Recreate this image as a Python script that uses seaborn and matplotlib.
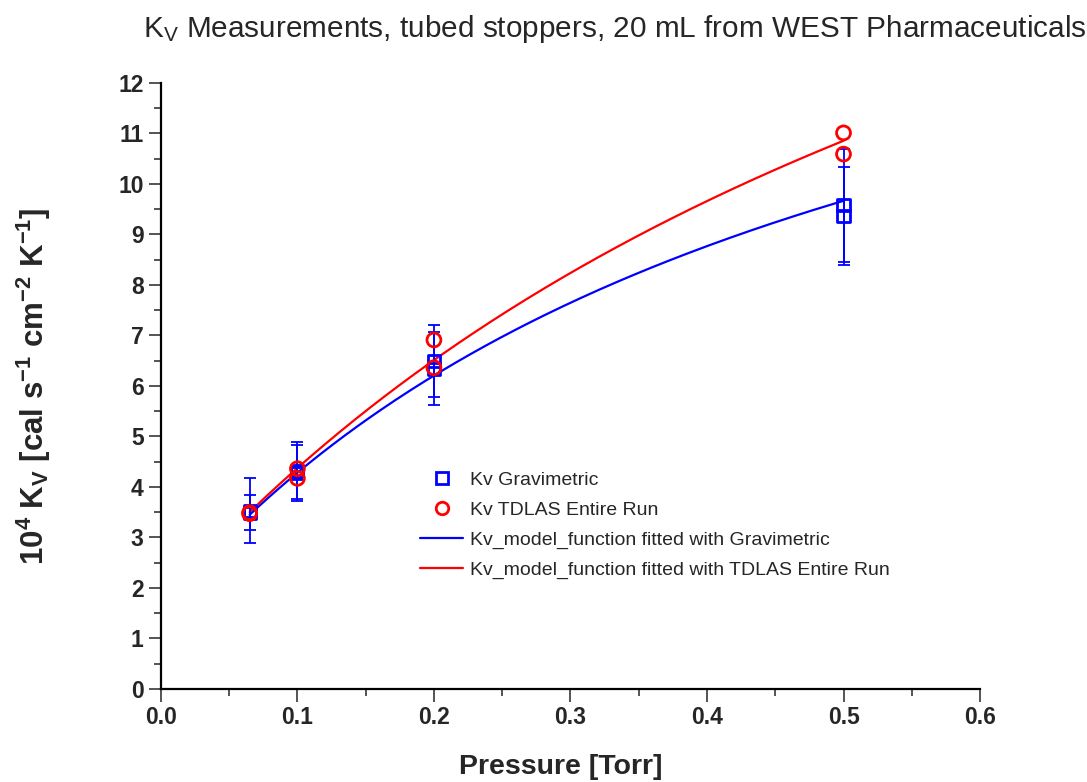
import numpy as np
import pandas as pd
import matplotlib
matplotlib.use("Agg")
import matplotlib.pyplot as plt
from matplotlib.lines import Line2D
from matplotlib.ticker import MultipleLocator
import seaborn as sns

# Measured Kv values (x 1e-4 cal s^-1 cm^-2 K^-1) against chamber pressure (Torr)
grav_pressure = [0.065, 0.065, 0.1, 0.1, 0.2, 0.2, 0.5, 0.5]
grav_kv = [3.53, 3.49, 4.32, 4.28, 6.50, 6.34, 9.58, 9.37]
grav_err = [0.65, 0.35, 0.56, 0.56, 0.71, 0.72, 1.12, 0.97]

tdlas_pressure = [0.065, 0.065, 0.1, 0.1, 0.2, 0.2, 0.5, 0.5]
tdlas_kv = [3.49, 3.47, 4.36, 4.17, 6.91, 6.36, 11.01, 10.59]

# Fitted parameters of Kv = Kc + Kp*P / (1 + Kd*P)
grav_fit = {"Kc": 1.59, "Kp": 32.3, "Kd": 2.0}
tdlas_fit = {"Kc": 1.66, "Kp": 30.8, "Kd": 1.35}
fit_range = (0.065, 0.5)

x_ticklabels = ["0.0", "0.1", "0.2", "0.3", "0.4", "0.5", "0.6"]
legend_labels = ["Kv Gravimetric", "Kv TDLAS Entire Run",
                 "Kv_model_function fitted with Gravimetric",
                 "Kv_model_function fitted with TDLAS Entire Run"]


def kv_model(p, Kc, Kp, Kd):
    return Kc + Kp * p / (1.0 + Kd * p)


sns.set_theme(style="ticks")
plt.rcParams["font.family"] = ["Liberation Sans", "DejaVu Sans"]
plt.rcParams["mathtext.fontset"] = "custom"
plt.rcParams["mathtext.rm"] = "Liberation Sans"
plt.rcParams["mathtext.it"] = "Liberation Sans"
plt.rcParams["mathtext.bf"] = "Liberation Sans:bold"

fig = plt.figure(figsize=(10.87, 7.82), dpi=100)
ax = fig.add_axes([0.148, 0.119, 0.7536, 0.775])

p = np.linspace(fit_range[0], fit_range[1], 200)
curves = pd.DataFrame({
    "p": np.concatenate([p, p]),
    "kv": np.concatenate([kv_model(p, **grav_fit), kv_model(p, **tdlas_fit)]),
    "fit": ["grav"] * len(p) + ["tdlas"] * len(p),
})
sns.lineplot(data=curves, x="p", y="kv", hue="fit",
             palette={"grav": "#0000ff", "tdlas": "#ff0000"},
             linewidth=1.6, legend=False, ax=ax)

ax.errorbar(grav_pressure, grav_kv, yerr=grav_err, fmt="none",
            ecolor="#0000ff", elinewidth=1.3, capsize=4.5, capthick=1.3, zorder=3)

sns.scatterplot(x=grav_pressure, y=grav_kv, marker="s", s=75,
                facecolors="none", edgecolor="#0000ff", linewidth=2.0,
                ax=ax, zorder=4)
sns.scatterplot(x=tdlas_pressure, y=tdlas_kv, marker="o", s=100,
                facecolors="none", edgecolor="#ff0000", linewidth=2.0,
                ax=ax, zorder=5)

ax.set_xlim(0, 0.6)
ax.set_ylim(0, 12)
ax.set_xticks(np.arange(0, 0.61, 0.1))
ax.set_xticklabels(x_ticklabels)
ax.xaxis.set_minor_locator(MultipleLocator(0.05))
ax.yaxis.set_major_locator(MultipleLocator(1))
ax.yaxis.set_minor_locator(MultipleLocator(0.5))
ax.tick_params(which="major", direction="out", length=9, width=1.1,
               labelsize=16.5, pad=3.5)
ax.tick_params(which="minor", direction="out", length=5, width=1.1)
for lbl in ax.get_xticklabels() + ax.get_yticklabels():
    lbl.set_fontweight("bold")

sns.despine(ax=ax)
for side in ("left", "bottom"):
    ax.spines[side].set_linewidth(1.6)
    ax.spines[side].set_color("black")

ax.set_xlabel("Pressure [Torr]", fontsize=20.5, fontweight="bold")
ax.xaxis.set_label_coords(0.488, -0.108)
ax.set_ylabel(r"$\mathbf{10^4\ K_V\ [cal\ s^{-1}\ cm^{-2}\ K^{-1}]}$", fontsize=22.5)
ax.yaxis.set_label_coords(-0.132, 0.5)
ax.set_title(r"K$_\mathrm{V}$ Measurements, tubed stoppers, 20 mL from WEST Pharmaceuticals",
             fontsize=21.4, pad=33, loc="left", x=-0.022)

handles = [
    Line2D([], [], linestyle="none", marker="s", markersize=8,
           markerfacecolor="none", markeredgecolor="#0000ff", markeredgewidth=2),
    Line2D([], [], linestyle="none", marker="o", markersize=9,
           markerfacecolor="none", markeredgecolor="#ff0000", markeredgewidth=2),
    Line2D([], [], color="#0000ff", linewidth=1.6),
    Line2D([], [], color="#ff0000", linewidth=1.6),
]
ax.legend(handles, legend_labels, loc="upper left", bbox_to_anchor=(0.307, 0.372),
          frameon=False, fontsize=14, handlelength=2.2, handletextpad=0.36,
          labelspacing=0.63, borderaxespad=0)

fig.savefig("out.png", dpi=100)
